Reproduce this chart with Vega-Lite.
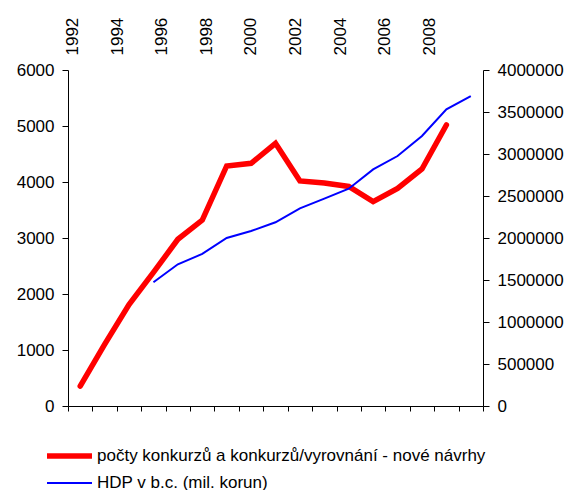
{
  "$schema": "https://vega.github.io/schema/vega-lite/v6.json",
  "autosize": {"type": "none"},
  "padding": {"left": 68, "top": 70, "right": 88, "bottom": 84},
  "width": 415,
  "height": 336,
  "config": {
    "view": {"stroke": null},
    "font": "Liberation Sans",
    "axis": {"labelFont": "Liberation Sans", "labelFontSize": 17, "labelColor": "#000", "domainColor": "#000", "tickColor": "#000", "grid": false, "title": null},
    "legend": {"labelFont": "Liberation Sans", "labelFontSize": 17, "labelColor": "#000", "labelLimit": 600}
  },
  "data": {"values": [
    {"year": 1992, "series": "počty konkurzů a konkurzů/vyrovnání - nové návrhy", "value": 355},
    {"year": 1993, "series": "počty konkurzů a konkurzů/vyrovnání - nové návrhy", "value": 1100},
    {"year": 1994, "series": "počty konkurzů a konkurzů/vyrovnání - nové návrhy", "value": 1810},
    {"year": 1995, "series": "počty konkurzů a konkurzů/vyrovnání - nové návrhy", "value": 2385},
    {"year": 1996, "series": "počty konkurzů a konkurzů/vyrovnání - nové návrhy", "value": 2977},
    {"year": 1997, "series": "počty konkurzů a konkurzů/vyrovnání - nové návrhy", "value": 3320},
    {"year": 1998, "series": "počty konkurzů a konkurzů/vyrovnání - nové návrhy", "value": 4286},
    {"year": 1999, "series": "počty konkurzů a konkurzů/vyrovnání - nové návrhy", "value": 4333},
    {"year": 2000, "series": "počty konkurzů a konkurzů/vyrovnání - nové návrhy", "value": 4690},
    {"year": 2001, "series": "počty konkurzů a konkurzů/vyrovnání - nové návrhy", "value": 4018},
    {"year": 2002, "series": "počty konkurzů a konkurzů/vyrovnání - nové návrhy", "value": 3982},
    {"year": 2003, "series": "počty konkurzů a konkurzů/vyrovnání - nové návrhy", "value": 3920},
    {"year": 2004, "series": "počty konkurzů a konkurzů/vyrovnání - nové návrhy", "value": 3649},
    {"year": 2005, "series": "počty konkurzů a konkurzů/vyrovnání - nové návrhy", "value": 3887},
    {"year": 2006, "series": "počty konkurzů a konkurzů/vyrovnání - nové návrhy", "value": 4232},
    {"year": 2007, "series": "počty konkurzů a konkurzů/vyrovnání - nové návrhy", "value": 5018},
    {"year": 1995, "series": "HDP v b.c. (mil. korun)", "value": 1473000},
    {"year": 1996, "series": "HDP v b.c. (mil. korun)", "value": 1687000},
    {"year": 1997, "series": "HDP v b.c. (mil. korun)", "value": 1810000},
    {"year": 1998, "series": "HDP v b.c. (mil. korun)", "value": 2000000},
    {"year": 1999, "series": "HDP v b.c. (mil. korun)", "value": 2083000},
    {"year": 2000, "series": "HDP v b.c. (mil. korun)", "value": 2187000},
    {"year": 2001, "series": "HDP v b.c. (mil. korun)", "value": 2353000},
    {"year": 2002, "series": "HDP v b.c. (mil. korun)", "value": 2468000},
    {"year": 2003, "series": "HDP v b.c. (mil. korun)", "value": 2587000},
    {"year": 2004, "series": "HDP v b.c. (mil. korun)", "value": 2817000},
    {"year": 2005, "series": "HDP v b.c. (mil. korun)", "value": 2976000},
    {"year": 2006, "series": "HDP v b.c. (mil. korun)", "value": 3214000},
    {"year": 2007, "series": "HDP v b.c. (mil. korun)", "value": 3532000},
    {"year": 2008, "series": "HDP v b.c. (mil. korun)", "value": 3690000}
  ]},
  "layer": [
    {
      "transform": [{"filter": "datum.series === 'počty konkurzů a konkurzů/vyrovnání - nové návrhy'"}],
      "mark": {"type": "line", "strokeCap": "round", "strokeJoin": "miter"},
      "encoding": {
        "x": {"field": "year", "type": "ordinal",
          "scale": {"type": "band", "domain": [1992,1993,1994,1995,1996,1997,1998,1999,2000,2001,2002,2003,2004,2005,2006,2007,2008], "paddingInner": 0, "paddingOuter": 0},
          "axis": {"orient": "bottom", "labels": false, "tickBand": "extent", "tickSize": 5, "domainColor": "#000"}},
        "y": {"field": "value", "type": "quantitative",
          "scale": {"domain": [0, 6000], "nice": false},
          "axis": {"orient": "left", "values": [0,1000,2000,3000,4000,5000,6000], "tickSize": 6, "labelPadding": 8, "format": "d"}},
        "color": {"field": "series", "type": "nominal",
          "scale": {"domain": ["počty konkurzů a konkurzů/vyrovnání - nové návrhy", "HDP v b.c. (mil. korun)"], "range": ["#ff0000", "#0000ff"]},
          "legend": {"orient": "none", "legendX": -14.5, "legendY": 370, "title": null, "symbolType": "M-1.73,0H1.73", "symbolSize": 676, "labelOffset": 11.5, "rowPadding": 2, "direction": "vertical", "labelLimit": 600}},
        "strokeWidth": {"field": "series", "type": "nominal",
          "scale": {"domain": ["počty konkurzů a konkurzů/vyrovnání - nové návrhy", "HDP v b.c. (mil. korun)"], "range": [5.5, 2]},
          "legend": {"orient": "none", "legendX": -14.5, "legendY": 370, "title": null, "symbolType": "M-1.73,0H1.73", "symbolSize": 676, "labelOffset": 11.5, "rowPadding": 2, "direction": "vertical", "labelLimit": 600}}
      }
    },
    {
      "transform": [{"filter": "datum.series === 'HDP v b.c. (mil. korun)'"}],
      "mark": {"type": "line", "strokeCap": "butt"},
      "encoding": {
        "x": {"field": "year", "type": "ordinal",
          "scale": {"type": "band", "domain": [1992,1993,1994,1995,1996,1997,1998,1999,2000,2001,2002,2003,2004,2005,2006,2007,2008], "paddingInner": 0, "paddingOuter": 0},
          "axis": null},
        "y": {"field": "value", "type": "quantitative",
          "scale": {"domain": [0, 4000000], "nice": false},
          "axis": {"orient": "right", "values": [0,500000,1000000,1500000,2000000,2500000,3000000,3500000,4000000], "tickSize": 6, "labelPadding": 8, "format": "d"}},
        "color": {"field": "series", "type": "nominal"},
        "strokeWidth": {"field": "series", "type": "nominal"}
      }
    },
    {
      "mark": {"type": "rule", "opacity": 0},
      "encoding": {
        "x": {"field": "year", "type": "quantitative",
          "scale": {"domain": [1991.798, 2010.40], "nice": false, "zero": false},
          "axis": {"orient": "top", "values": [1992,1994,1996,1998,2000,2002,2004,2006,2008], "format": "d", "labelAngle": 270, "domain": false, "ticks": false, "tickSize": 0, "labelPadding": 15}}
      }
    }
  ],
  "resolve": {"scale": {"x": "independent", "y": "independent"}}
}
